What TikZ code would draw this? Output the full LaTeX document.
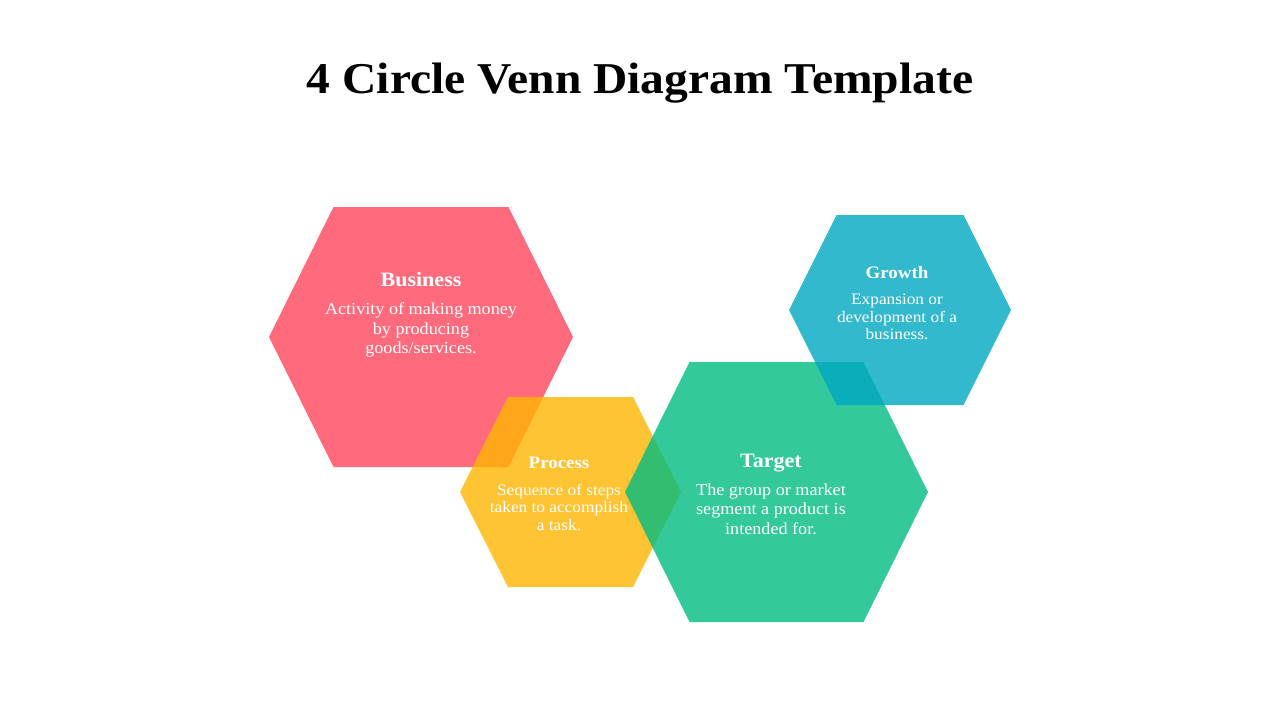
\documentclass[tikz,border=0pt]{standalone}
\usepackage{fontspec}
\setmainfont{Liberation Serif}[FakeStretch=1.08]
\usepackage{xcolor}
\usepackage{tikz}
\usetikzlibrary{calc,positioning}

\definecolor{bizred}{HTML}{FF465D}
\definecolor{procyellow}{HTML}{FFB600}
\definecolor{targetgreen}{HTML}{00BC81}
\definecolor{growthblue}{HTML}{00A8C2}

% hexagon: centre, half width, half top edge, half height
\newcommand{\hexfill}[5]{%
  \fill[hexstyle, fill=#5] ($(#1)+(-#2,0)$) -- ($(#1)+(-#3,-#4)$) -- ($(#1)+(#3,-#4)$)
    -- ($(#1)+(#2,0)$) -- ($(#1)+(#3,#4)$) -- ($(#1)+(-#3,#4)$) -- cycle;}

\begin{document}
\begin{tikzpicture}[
    x=1pt, y=-1pt,
    hexstyle/.style = {fill opacity=0.8},
    titlestyle/.style = {
        font=\bfseries\fontsize{44}{50}\selectfont,
        text=black
    },
    headbig/.style = {
        font=\bfseries\fontsize{20.4}{22}\selectfont,
        text=white, inner sep=0pt
    },
    headsmall/.style = {
        font=\bfseries\fontsize{17.5}{19}\selectfont,
        text=white, inner sep=0pt
    },
    bodybig/.style = {
        font=\fontsize{16.8}{19.5}\selectfont,
        text=white, align=center, inner sep=0pt
    },
    bodysmall/.style = {
        font=\fontsize{16}{17.5}\selectfont,
        text=white, align=center, inner sep=0pt
    }
]
\useasboundingbox (0,0) rectangle (1280,720);
\fill[white] (0,0) rectangle (1280,720);

% --- Title ---
\node[titlestyle] (title) at (640,83) {4 Circle Venn Diagram Template};

% --- Centres ---
\coordinate (business) at (421,337);
\coordinate (process) at (570.5,492);
\coordinate (target) at (776.5,492);
\coordinate (growth) at (900,310);

% --- Hexagons ---
\hexfill{business}{152}{87.5}{130}{bizred}
\hexfill{process}{110.5}{62.5}{95}{procyellow}
\hexfill{target}{151.5}{87}{130}{targetgreen}
\hexfill{growth}{111}{63.5}{95}{growthblue}

% --- Texts ---
\node[headbig] (bizHead) at (421,280) {Business};
\node[bodybig] (bizText) at (421,330) {Activity of making money\\by producing\\goods/services.};

\node[headsmall] (procHead) at (559,463) {Process};
\node[bodysmall] (procText) at (559,507) {Sequence of steps\\taken to accomplish\\a task.};

\node[headbig] (targetHead) at (771,463) {Target};
\node[bodybig] (targetText) at (771,509) {The group or market\\segment a product is\\intended for.};

\node[headsmall] (growthHead) at (897,273) {Growth};
\node[bodysmall] (growthText) at (897,317) {Expansion or\\development of a\\business.};

\end{tikzpicture}
\end{document}
